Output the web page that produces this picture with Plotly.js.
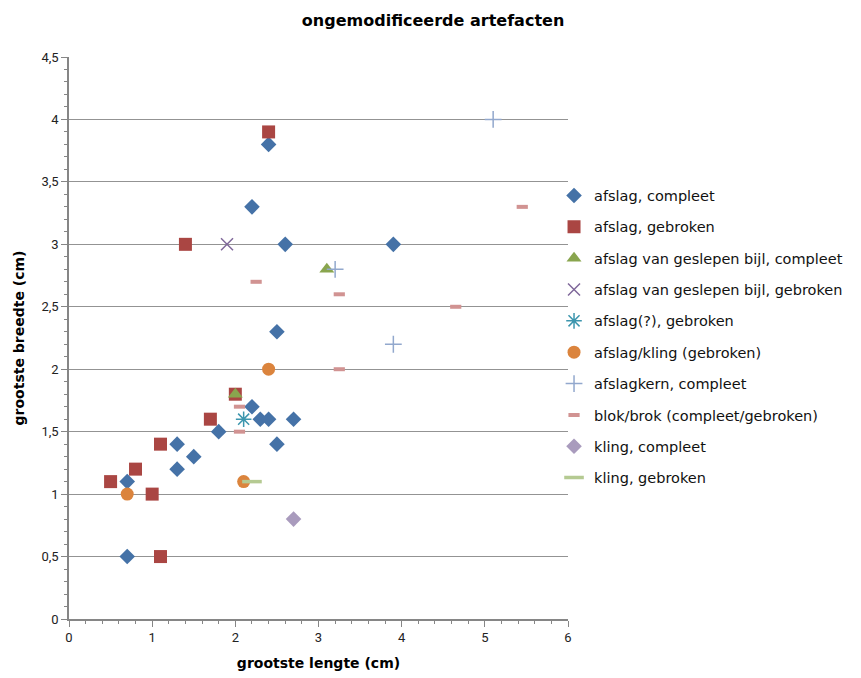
<!DOCTYPE html>
<html>
<head>
<meta charset="utf-8">
<script src="https://cdn.plot.ly/plotly-3.0.1.min.js"></script>
<style>body{margin:0;padding:0;background:#fff}#chart{width:861px;height:678px}</style>
</head>
<body>
<div id="chart"></div>
<script>
// afslag, compleet
const afslagCompleetX = [2.4, 2.2, 2.6, 3.9, 2.5, 2.2, 2.3, 2.4, 2.7, 1.8, 2.5, 1.5, 1.3, 1.3, 0.7, 0.7];
const afslagCompleetY = [3.8, 3.3, 3.0, 3.0, 2.3, 1.7, 1.6, 1.6, 1.6, 1.5, 1.4, 1.3, 1.4, 1.2, 1.1, 0.5];
// afslag, gebroken
const afslagGebrokenX = [2.4, 1.4, 2.0, 1.7, 1.1, 0.8, 0.5, 1.0, 1.1];
const afslagGebrokenY = [3.9, 3.0, 1.8, 1.6, 1.4, 1.2, 1.1, 1.0, 0.5];
// afslag van geslepen bijl, compleet
const bijlCompleetX = [2.0, 3.1];
const bijlCompleetY = [1.8, 2.8];
// afslag van geslepen bijl, gebroken
const bijlGebrokenX = [1.9];
const bijlGebrokenY = [3.0];
// afslag(?), gebroken
const afslagVraagX = [2.1];
const afslagVraagY = [1.6];
// afslag/kling (gebroken)
const afslagKlingX = [2.4, 0.7, 2.1];
const afslagKlingY = [2.0, 1.0, 1.1];
// afslagkern, compleet
const kernX = [5.1, 3.2, 3.9];
const kernY = [4.0, 2.8, 2.2];
// blok/brok
const blokX = [5.45, 3.25, 4.65, 3.25, 2.25, 2.05, 2.05];
const blokY = [3.3, 2.6, 2.5, 2.0, 2.7, 1.7, 1.5];
// kling, compleet
const klingCompleetX = [2.7];
const klingCompleetY = [0.8];
// kling, gebroken
const klingGebrokenX = [2.2];
const klingGebrokenY = [1.1];

const names = [
  'afslag, compleet',
  'afslag, gebroken',
  'afslag van geslepen bijl, compleet',
  'afslag van geslepen bijl, gebroken',
  'afslag(?), gebroken',
  'afslag/kling (gebroken)',
  'afslagkern, compleet',
  'blok/brok (compleet/gebroken)',
  'kling, compleet',
  'kling, gebroken'
];

function tr(i, x, y, marker) {
  return {type: 'scatter', mode: 'markers', x: x, y: y, name: names[i],
          legendgroup: 'g' + i, marker: marker, hoverinfo: 'x+y'};
}

const data = [
  tr(0, afslagCompleetX, afslagCompleetY, {symbol: 'diamond', size: 12, color: '#4572A7'}),
  tr(1, afslagGebrokenX, afslagGebrokenY, {symbol: 'square', size: 13, color: '#AA4643'}),
  tr(2, bijlCompleetX, bijlCompleetY, {symbol: 'triangle-up', size: 13, color: '#89A54E'}),
  tr(3, bijlGebrokenX, bijlGebrokenY, {symbol: 'x-thin-open', size: 12, color: '#80699B', line: {width: 1.5, color: '#80699B'}}),
  tr(4, afslagVraagX, afslagVraagY, {symbol: 'asterisk-open', size: 13, color: '#3D96AE', line: {width: 1.5, color: '#3D96AE'}}),
  tr(5, afslagKlingX, afslagKlingY, {symbol: 'circle', size: 13, color: '#DB843D'}),
  tr(6, kernX, kernY, {symbol: 'cross-thin-open', size: 12, color: '#92A8CD', line: {width: 1.5, color: '#92A8CD'}}),
  tr(7, blokX, blokY, {symbol: 'line-ew-open', size: 8, color: '#D19392', line: {width: 4, color: '#D19392'}}),
  tr(8, klingCompleetX, klingCompleetY, {symbol: 'diamond', size: 12, color: '#A99BBD'}),
  tr(9, klingGebrokenX, klingGebrokenY, {symbol: 'line-ew-open', size: 14, color: '#B5CA92', line: {width: 3.5, color: '#B5CA92'}})
];

const layout = {
  width: 861, height: 678,
  margin: {l: 69, r: 293, t: 57, b: 59},
  paper_bgcolor: '#fff', plot_bgcolor: '#fff',
  separators: ', ',
  font: {family: 'Roboto, sans-serif', size: 13, color: '#222'},
  title: {text: 'ongemodificeerde artefacten', font: {family: '"DejaVu Sans", sans-serif', size: 16, color: '#000', weight: 'bold'},
          xref: 'container', yref: 'container', x: 0.503, xanchor: 'center', y: 0.97, yanchor: 'middle'},
  xaxis: {
    range: [0, 6], dtick: 1, tick0: 0, showgrid: false, zeroline: false,
    showline: true, linecolor: '#868686', linewidth: 1.5,
    ticks: 'outside', ticklen: 6, tickcolor: '#868686',
    minor: {dtick: 0.2, ticks: 'outside', ticklen: 3, tickcolor: '#868686', showgrid: false},
    tickfont: {size: 13, color: '#222'},
    title: {text: 'grootste lengte (cm)', font: {family: '"DejaVu Sans", sans-serif', size: 14, color: '#000', weight: 'bold'}, standoff: 14}
  },
  yaxis: {
    range: [0, 4.5], dtick: 0.5, tick0: 0, showgrid: true, gridcolor: '#939393', gridwidth: 1.3,
    zeroline: false, showline: true, linecolor: '#868686', linewidth: 1.5,
    ticks: 'outside', ticklen: 6, tickcolor: '#868686',
    minor: {dtick: 0.1, ticks: 'outside', ticklen: 3, tickcolor: '#868686', showgrid: false},
    tickfont: {size: 13, color: '#222'},
    title: {text: 'grootste breedte (cm)', font: {family: '"DejaVu Sans", sans-serif', size: 14, color: '#000', weight: 'bold'}, standoff: 14}
  },
  legend: {
    x: 0.972, xanchor: 'left', y: 0.782, yanchor: 'top',
    font: {family: '"DejaVu Sans", sans-serif', size: 14.5, color: '#111'}, tracegroupgap: 9.5, itemwidth: 30,
    bgcolor: 'rgba(0,0,0,0)'
  },
  showlegend: true
};

Plotly.newPlot('chart', data, layout, {displayModeBar: false, responsive: false});
</script>
</body>
</html>
